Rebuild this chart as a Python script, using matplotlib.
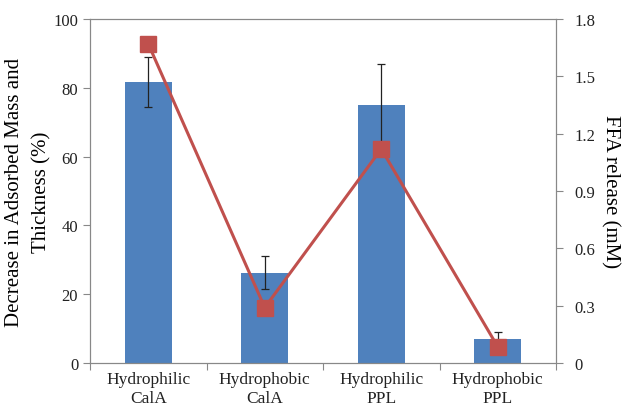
import matplotlib
matplotlib.use("Agg")
import matplotlib.pyplot as plt
import numpy as np

categories = ["Hydrophilic\nCalA", "Hydrophobic\nCalA", "Hydrophilic\nPPL", "Hydrophobic\nPPL"]
decrease = [81.7, 26.2, 75.0, 7.0]
decrease_err = [7.3, 4.8, 12.0, 2.1]
ffa = [1.67, 0.29, 1.12, 0.085]

plt.rcParams['font.family'] = ['Liberation Serif', 'DejaVu Serif']
plt.rcParams['text.color'] = '#222222'
plt.rcParams['xtick.labelcolor'] = '#222222'
plt.rcParams['ytick.labelcolor'] = '#222222'

fig = plt.figure(figsize=(6.25, 4.14), dpi=100)
ax = fig.add_axes([90/625, 1 - 364/414, (556-90)/625, (364-20)/414])
x = np.arange(len(categories))
ax.bar(x, decrease, width=0.4, color='#4F81BD', zorder=2)
ax.errorbar(x, decrease, yerr=decrease_err, fmt='none', ecolor='#222222',
            elinewidth=0.9, capsize=3, capthick=0.9, zorder=3)
ax.set_xlim(-0.5, 3.5)
ax.set_ylim(0, 100)
ax.set_yticks(np.arange(0, 101, 20))
ax.set_xticks(np.arange(-0.5, 3.6, 1.0))
ax.set_xticklabels([])
ax.set_xticks(x, minor=True)
ax.set_xticklabels(categories, minor=True, fontsize=12.5)
ax.tick_params(axis='x', which='minor', length=0, pad=6)
ax.tick_params(axis='x', which='major', length=5, color='#888888')
ax.tick_params(axis='y', labelsize=12, length=5, color='#888888')
ax.set_ylabel("Decrease in Adsorbed Mass and\nThickness (%)", fontsize=15,
              labelpad=1, linespacing=1.6)
for s in ['left', 'bottom', 'right', 'top']:
    ax.spines[s].set_color('#888888')

ax2 = ax.twinx()
ax2.plot(x, ffa, color='#C0504D', lw=2.2, marker='s', markersize=11,
         markerfacecolor='#C0504D', markeredgecolor='#C0504D', zorder=4)
ax2.set_ylim(0, 1.8)
ax2.set_yticks([0, 0.3, 0.6, 0.9, 1.2, 1.5, 1.8])
ax2.set_yticklabels(["0", "0.3", "0.6", "0.9", "1.2", "1.5", "1.8"])
ax2.tick_params(axis='y', labelsize=12, length=5, color='#888888', pad=8)
ax2.set_ylabel("FFA release (mM)", fontsize=15, rotation=270, labelpad=18)
for s in ['left', 'bottom', 'right', 'top']:
    ax2.spines[s].set_color('#888888')

fig.savefig("out.png", dpi=100)
